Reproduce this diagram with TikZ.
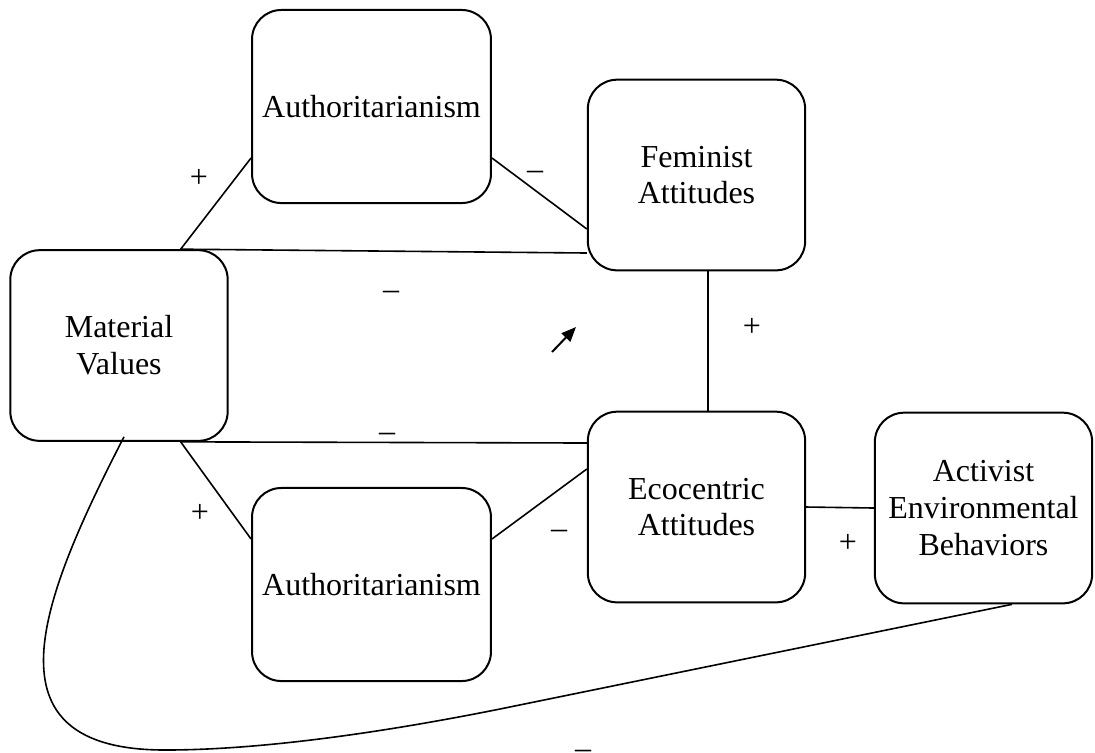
\documentclass[tikz,border=0pt]{standalone}
\usepackage{fontspec}
\setmainfont{Liberation Serif}
\usetikzlibrary{calc,arrows.meta}

\begin{document}
\begin{tikzpicture}[x=0.375pt,y=-0.375pt,
  box/.style={draw,line width=0.75pt,rounded corners=11pt,align=center,inner sep=0pt,
    minimum width=81.5pt,minimum height=71.5pt,font=\fontsize{12}{13.8}\selectfont},
  widebox/.style={box,minimum width=89.6pt,minimum height=72.4pt},
  sign/.style={inner sep=0pt,font=\fontsize{12}{13.8}\selectfont},
  link/.style={line width=0.6pt}]
\useasboundingbox (0,0) rectangle (1095,752);
\node [box] (mv) at (119,345.5) {Material\\Values};
\node [widebox] (at) at (371.5,106.5) {Authoritarianism};
\node [box] (fa) at (696.5,175) {Feminist\\Attitudes};
\node [box] (ea) at (696.5,507) {Ecocentric\\Attitudes};
\node [box] (aeb) at (983.5,508) {Activist\\Environmental\\Behaviors};
\node [widebox] (ab) at (371.5,584.5) {Authoritarianism};
\draw [link] ($(mv.north east)+(-48,0)$) -- ($(at.west)+(0,51.5)$);
\draw [link] ($(at.east)+(0,51.5)$) -- ($(fa.west)+(0,54)$);
\draw [link] ($(mv.north east)+(-48,0)$) -- ($(fa.west)+(0,78)$);
\draw [link] ($(fa.south)+(11.5,0)$) -- ($(ea.north)+(11.5,0)$);
\draw [link] ($(mv.south east)+(-48,0)$) -- ($(ea.west)+(0,-64)$);
\draw [link] ($(mv.south east)+(-48,0)$) -- ($(ab.west)+(0,-45.5)$);
\draw [link] ($(ab.east)+(0,-45.5)$) -- ($(ea.west)+(0,-38)$);
\draw [link] (ea.east) -- (aeb.west);
\draw [link] ($(mv.south)+(5,-5)$) .. controls (40,600) and (-20,750) .. (165,750)
  .. controls (280,750) and (420,725) .. (500,709) -- ($(aeb.south)+(28.5,0)$);
\coordinate (arrtail) at (552,352);
\coordinate (arrtip) at (576,327);
\draw [line width=0.75pt,-{Triangle[length=5.5pt,width=4.5pt]}] (arrtail) -- (arrtip);
\node [sign] (s1) at (199,178) {+};
\node [sign] (s2) at (535,175) {--};
\node [sign] (s3) at (391,295) {--};
\node [sign] (s4) at (752,327) {+};
\node [sign] (s5) at (387,437) {--};
\node [sign] (s6) at (200,513) {+};
\node [sign] (s7) at (559,534) {--};
\node [sign] (s8) at (848,543) {+};
\node [sign] (s9) at (583,754) {--};
\end{tikzpicture}
\end{document}
